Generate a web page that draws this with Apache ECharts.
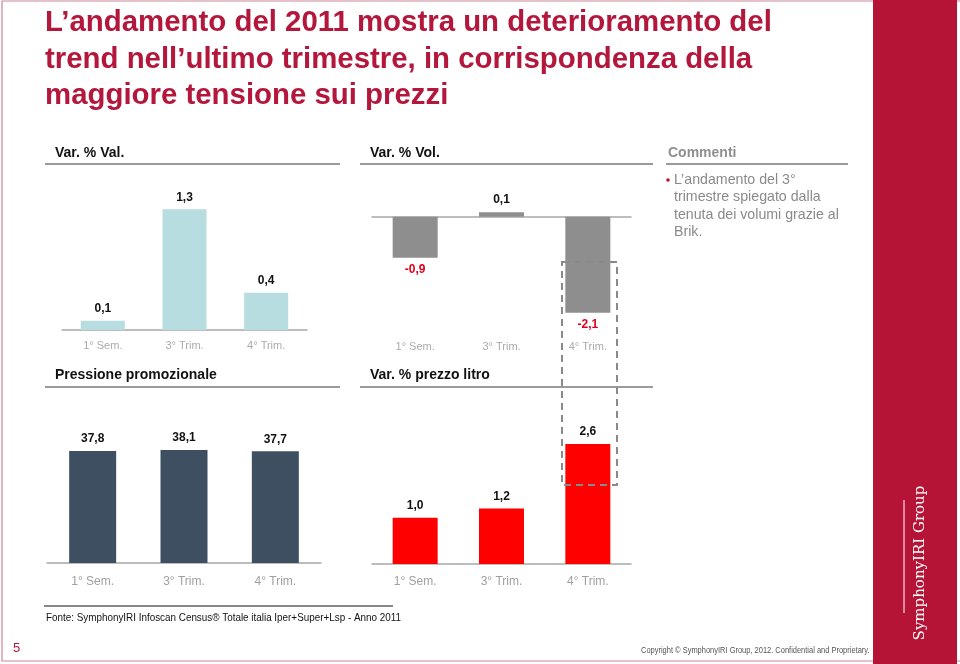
<!DOCTYPE html>
<html>
<head>
<meta charset="utf-8">
<script src="https://cdn.jsdelivr.net/npm/echarts@6/dist/echarts.min.js"></script>
<style>
html,body{margin:0;padding:0;background:#fff;}
#chart{width:960px;height:664px;}
</style>
</head>
<body>
<div id="chart"></div>
<script>
// ---- data ----
var categories = ['1° Sem.', '3° Trim.', '4° Trim.'];
var valData = [0.1, 1.3, 0.4];        // Var. % Val.
var volData = [-0.9, 0.1, -2.1];      // Var. % Vol.
var promoData = [37.8, 38.1, 37.7];   // Pressione promozionale
var prezzoData = [1.0, 1.2, 2.6];     // Var. % prezzo litro

var titleLines = [
  'L’andamento del 2011 mostra un deterioramento del',
  'trend nell’ultimo trimestre, in corrispondenza della',
  'maggiore tensione sui prezzi'
];
var panelTitles = ['Var. % Val.', 'Var. % Vol.', 'Pressione promozionale', 'Var. % prezzo litro'];
var commentTitle = 'Commenti';
var commentLines = ['L’andamento del 3°', 'trimestre spiegato dalla', 'tenuta dei volumi grazie al', 'Brik.'];
var sourceText = 'Fonte: SymphonyIRI Infoscan Census® Totale italia Iper+Super+Lsp - Anno 2011';
var copyrightText = 'Copyright © SymphonyIRI Group, 2012. Confidential and Proprietary.';
var pageNumber = '5';
var logoText = 'SymphonyIRI Group';

// ---- styling ----
var FONT = '"Liberation Sans", Arial, Helvetica, sans-serif';
var CRIMSON = '#B4173C';
function fmt(v){ return v.toFixed(1).replace('.', ','); }

var chart = echarts.init(document.getElementById('chart'), null, {renderer:'canvas'});

var axisLineStyle = {color:'#a8a8a8', width:1.5};
function catAxis(grid, opts){
  var a = {
    type:'category', gridIndex:grid, data:categories,
    axisTick:{show:false},
    axisLine:{lineStyle:axisLineStyle},
    axisLabel:{color:'#ababab', fontSize:11, fontFamily:FONT, margin:10},
    splitLine:{show:false}
  };
  for (var k in opts) a[k] = opts[k];
  return a;
}
var barLabel = {show:true, position:'top', distance:6, color:'#111', fontSize:12, fontWeight:'bold', fontFamily:FONT,
  formatter:function(p){ return fmt(p.value); }};

var volItems = volData.map(function(v){
  return {value:v, label:{position: v < 0 ? 'bottom' : 'top', color: v < 0 ? '#E0001B' : '#111'}};
});

function txt(text, x, y, font, fill, align, sx){
  return {type:'text', z:50, x:x, y:y, scaleX:sx||1, style:{text:text, x:0, y:0, font:font, fill:fill,
    textAlign:align||'left', align:align||'left', textVerticalAlign:'middle', verticalAlign:'middle'}};
}
function hline(x1, x2, y, color, w){
  return {type:'line', z:40, shape:{x1:x1, y1:y, x2:x2, y2:y}, style:{stroke:color, lineWidth:w}};
}

var graphics = [];
// frame
graphics.push({type:'rect', z:1, shape:{x:2, y:1, width:960, height:660}, style:{fill:'none', stroke:'#C98597', lineWidth:1.2}});
// sidebar
graphics.push({type:'rect', z:2, shape:{x:873, y:0, width:84, height:664}, style:{fill:'#B51436'}});
graphics.push({type:'text', z:60, rotation:Math.PI/2, x:920, y:563,
  style:{text:logoText, x:0, y:0, font:'15px "DejaVu Serif", serif', fill:'#fff', textAlign:'center', align:'center', textVerticalAlign:'middle', verticalAlign:'middle'}});
graphics.push({type:'line', z:60, shape:{x1:904, y1:500, x2:904, y2:613}, style:{stroke:'#fff', lineWidth:1}});
// title
titleLines.forEach(function(t, i){
  graphics.push(txt(t, 45, 23 + i*36.5, 'bold 29.4px ' + FONT, CRIMSON));
});
// panel titles and dividers
graphics.push(txt(panelTitles[0], 55, 153, 'bold 14px ' + FONT, '#111'));
graphics.push(txt(panelTitles[1], 370, 153, 'bold 14px ' + FONT, '#111'));
graphics.push(txt(commentTitle, 668, 153, 'bold 14px ' + FONT, '#8f8f8f'));
graphics.push(hline(45, 340, 164, '#9a9a9a', 2));
graphics.push(hline(360, 653, 164, '#9a9a9a', 2));
graphics.push(hline(666, 848, 164, '#9a9a9a', 2));
graphics.push(txt(panelTitles[2], 55, 375, 'bold 14px ' + FONT, '#111'));
graphics.push(txt(panelTitles[3], 370, 375, 'bold 14px ' + FONT, '#111'));
graphics.push(hline(45, 340, 387, '#9a9a9a', 2));
graphics.push(hline(360, 653, 387, '#9a9a9a', 2));
// comment
graphics.push({type:'circle', z:50, shape:{cx:668, cy:180, r:1.8}, style:{fill:'#C0102F'}});
commentLines.forEach(function(t, i){
  graphics.push(txt(t, 674, 180 + i*17.4, '14.2px ' + FONT, '#8a8a8a'));
});
// dashed highlight box
graphics.push({type:'rect', z:70, shape:{x:562, y:262, width:55, height:223},
  style:{fill:'none', stroke:'#8a8a8a', lineWidth:2, lineDash:[7,5]}});
// footer
graphics.push(hline(44, 393, 606, '#111', 1));
graphics.push(txt(sourceText, 46, 618, '10.5px ' + FONT, '#111', 'left', 0.94));
graphics.push(txt(pageNumber, 13, 648, '13px ' + FONT, CRIMSON));
graphics.push(txt(copyrightText, 641, 651, '8.8px ' + FONT, '#555', 'left', 0.85));

var option = {
  animation:false,
  backgroundColor:'#fff',
  grid:[
    {left:62, top:200, width:245, height:130},
    {left:372, top:207.6, width:259, height:123.4},
    {left:47, top:444.4, width:274, height:118.6},
    {left:372, top:425.4, width:259, height:138.6}
  ],
  xAxis:[
    catAxis(0, {}),
    catAxis(1, {axisLabel:{show:false}}),
    catAxis(1, {position:'bottom', axisLine:{show:false, onZero:false}}),
    catAxis(2, {axisLabel:{color:'#9f9f9f', fontSize:12, fontFamily:FONT, margin:13}}),
    catAxis(3, {axisLabel:{color:'#9f9f9f', fontSize:12, fontFamily:FONT, margin:12}})
  ],
  yAxis:[
    {type:'value', gridIndex:0, min:0, max:1.4, show:false},
    {type:'value', gridIndex:1, min:-2.5, max:0.2, show:false},
    {type:'value', gridIndex:2, min:0, max:40, show:false},
    {type:'value', gridIndex:3, min:0, max:3, show:false}
  ],
  series:[
    {type:'bar', xAxisIndex:0, yAxisIndex:0, data:valData, barWidth:44, itemStyle:{color:'#B8DDE1'}, label:barLabel},
    {type:'bar', xAxisIndex:1, yAxisIndex:1, data:volItems, barWidth:45, itemStyle:{color:'#8E8E8E'}, label:barLabel},
    {type:'bar', xAxisIndex:3, yAxisIndex:2, data:promoData, barWidth:47, itemStyle:{color:'#3E4F61'}, label:barLabel},
    {type:'bar', xAxisIndex:4, yAxisIndex:3, data:prezzoData, barWidth:45, itemStyle:{color:'#FF0000'}, label:barLabel}
  ],
  graphic:{elements:graphics}
};
chart.setOption(option);
</script>
</body>
</html>
